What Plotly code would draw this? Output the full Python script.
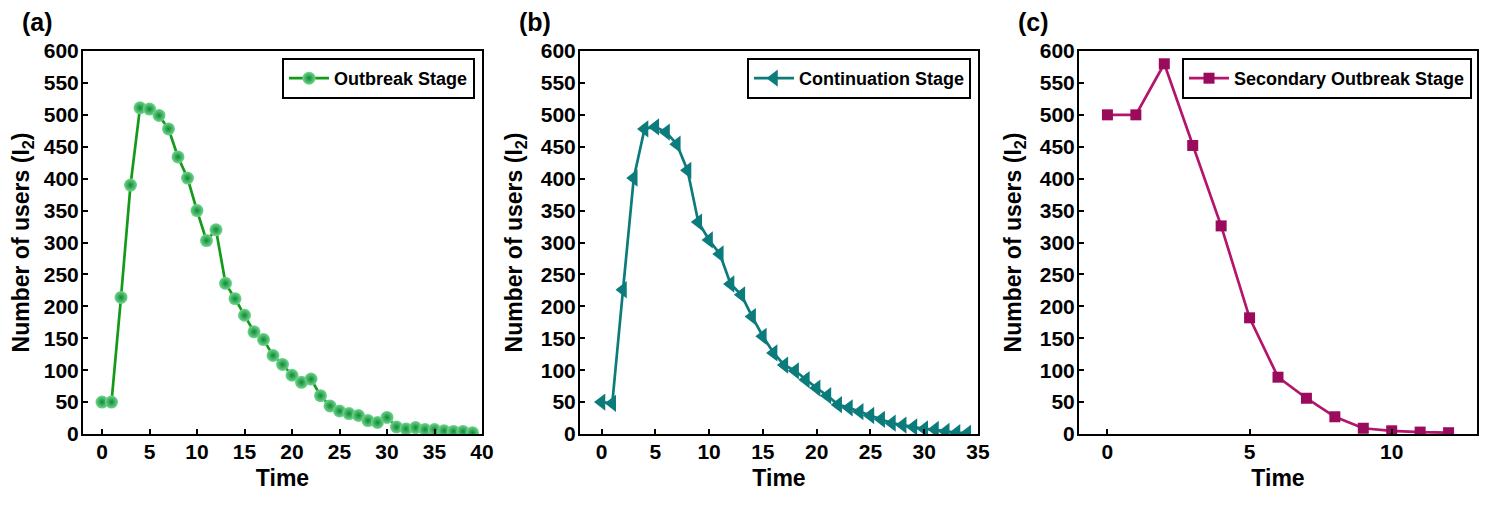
"""Three-stage spread of I2 users: outbreak, continuation, secondary outbreak."""

import plotly.graph_objects as go

# (a) outbreak stage
t_outbreak = list(range(40))
i2_outbreak = [50, 50, 214, 390, 511, 509, 499, 478, 434, 401,
               350, 303, 320, 236, 212, 186, 160, 148, 123, 109,
               92, 81, 86, 60, 44, 36, 32, 29, 21, 18,
               26, 11, 8, 10, 7, 7, 5, 4, 4, 2]

# (b) continuation stage
t_continuation = list(range(35))
i2_continuation = [50, 48, 226, 401, 478, 481, 473, 454, 413, 332,
                   304, 282, 235, 218, 184, 153, 127, 108, 99, 85,
                   72, 60, 46, 41, 35, 29, 23, 17, 14, 11,
                   8, 7, 4, 2, 1]

# (c) secondary outbreak stage
t_secondary = list(range(13))
i2_secondary = [500, 500, 580, 452, 326, 182, 89, 56, 27, 9, 5, 3, 2]

y_ticks = list(range(0, 601, 50))

FONT = "Liberation Sans, Arial, sans-serif"
# page body keeps its default 8px margin, so the figure is shifted by that much
OFF = 8
W, H = 1493 - OFF, 505 - OFF


def fx(px):
    return (px - OFF) / W


def fy(py):
    return 1 - (py - OFF) / H


panels = [
    dict(x=t_outbreak, y=i2_outbreak, name="Outbreak Stage", label="(a)",
         line="#139a18", marker=dict(color="#72d68f", size=13, symbol="circle",
                                     gradient=dict(type="radial", color="#0d8a33"),
                                     line=dict(width=0)),
         px=(83, 482), xrange=[-2, 40], leg_right=475),
    dict(x=t_continuation, y=i2_continuation, name="Continuation Stage", label="(b)",
         line="#0b7b7b", marker=dict(color="#0b7b7b", size=15, symbol="triangle-left",
                                     line=dict(width=0)),
         px=(580, 978), xrange=[-2, 35], leg_right=971),
    dict(x=t_secondary, y=i2_secondary, name="Secondary Outbreak Stage", label="(c)",
         line="#b3146c", marker=dict(color="#9b0b5d", size=11, symbol="square",
                                     line=dict(width=0)),
         px=(1079, 1477), xrange=[-1, 13], leg_right=1472),
]

fig = go.Figure()
y_dom = [fy(434), fy(51)]

for k, p in enumerate(panels, start=1):
    sfx = "" if k == 1 else str(k)
    fig.add_trace(go.Scatter(
        x=p["x"], y=p["y"], mode="lines+markers", name=p["name"],
        line=dict(color=p["line"], width=2.7), marker=p["marker"],
        xaxis="x" + sfx, yaxis="y" + sfx, legend="legend" + sfx,
    ))
    axis_common = dict(
        showline=True, linewidth=2, linecolor="black", mirror=True,
        ticks="inside", ticklen=5, tickwidth=2, tickcolor="black",
        showgrid=False, zeroline=False, automargin=False,
        tickfont=dict(family=FONT, size=21, color="black", weight="bold"),
    )
    fig.layout["xaxis" + sfx] = dict(
        domain=[fx(p["px"][0]), fx(p["px"][1])], range=p["xrange"],
        dtick=5, tick0=0, anchor="y" + sfx, ticklabelstandoff=-2,
        title=dict(text="<b>Time</b>", font=dict(family=FONT, size=23, color="black"),
                   standoff=8),
        **axis_common,
    )
    fig.layout["yaxis" + sfx] = dict(
        domain=y_dom, range=[0, 600], tickvals=y_ticks, anchor="x" + sfx,
        ticklabelstandoff=-2,
        title=dict(text="<b>Number of users (I<sub>2</sub>)</b>",
                   font=dict(family=FONT, size=23, color="black"), standoff=12),
        **axis_common,
    )
    fig.layout["legend" + sfx] = dict(
        x=fx(p["leg_right"]), y=fy(58), xanchor="right", yanchor="top",
        bordercolor="black", borderwidth=2, bgcolor="white",
        font=dict(family=FONT, size=18, color="black", weight="bold"),
        itemwidth=40, tracegroupgap=0,
    )
    fig.add_annotation(
        text="<b>%s</b>" % p["label"], xref="paper", yref="paper",
        x=fx(p["px"][0] - 63), y=fy(6), xanchor="left", yanchor="top",
        showarrow=False, font=dict(family=FONT, size=25, color="black"),
    )

fig.update_layout(
    width=W, height=H, margin=dict(l=0, r=0, t=0, b=0),
    plot_bgcolor="white", paper_bgcolor="white", showlegend=True,
)

fig.write_html("out.html")
